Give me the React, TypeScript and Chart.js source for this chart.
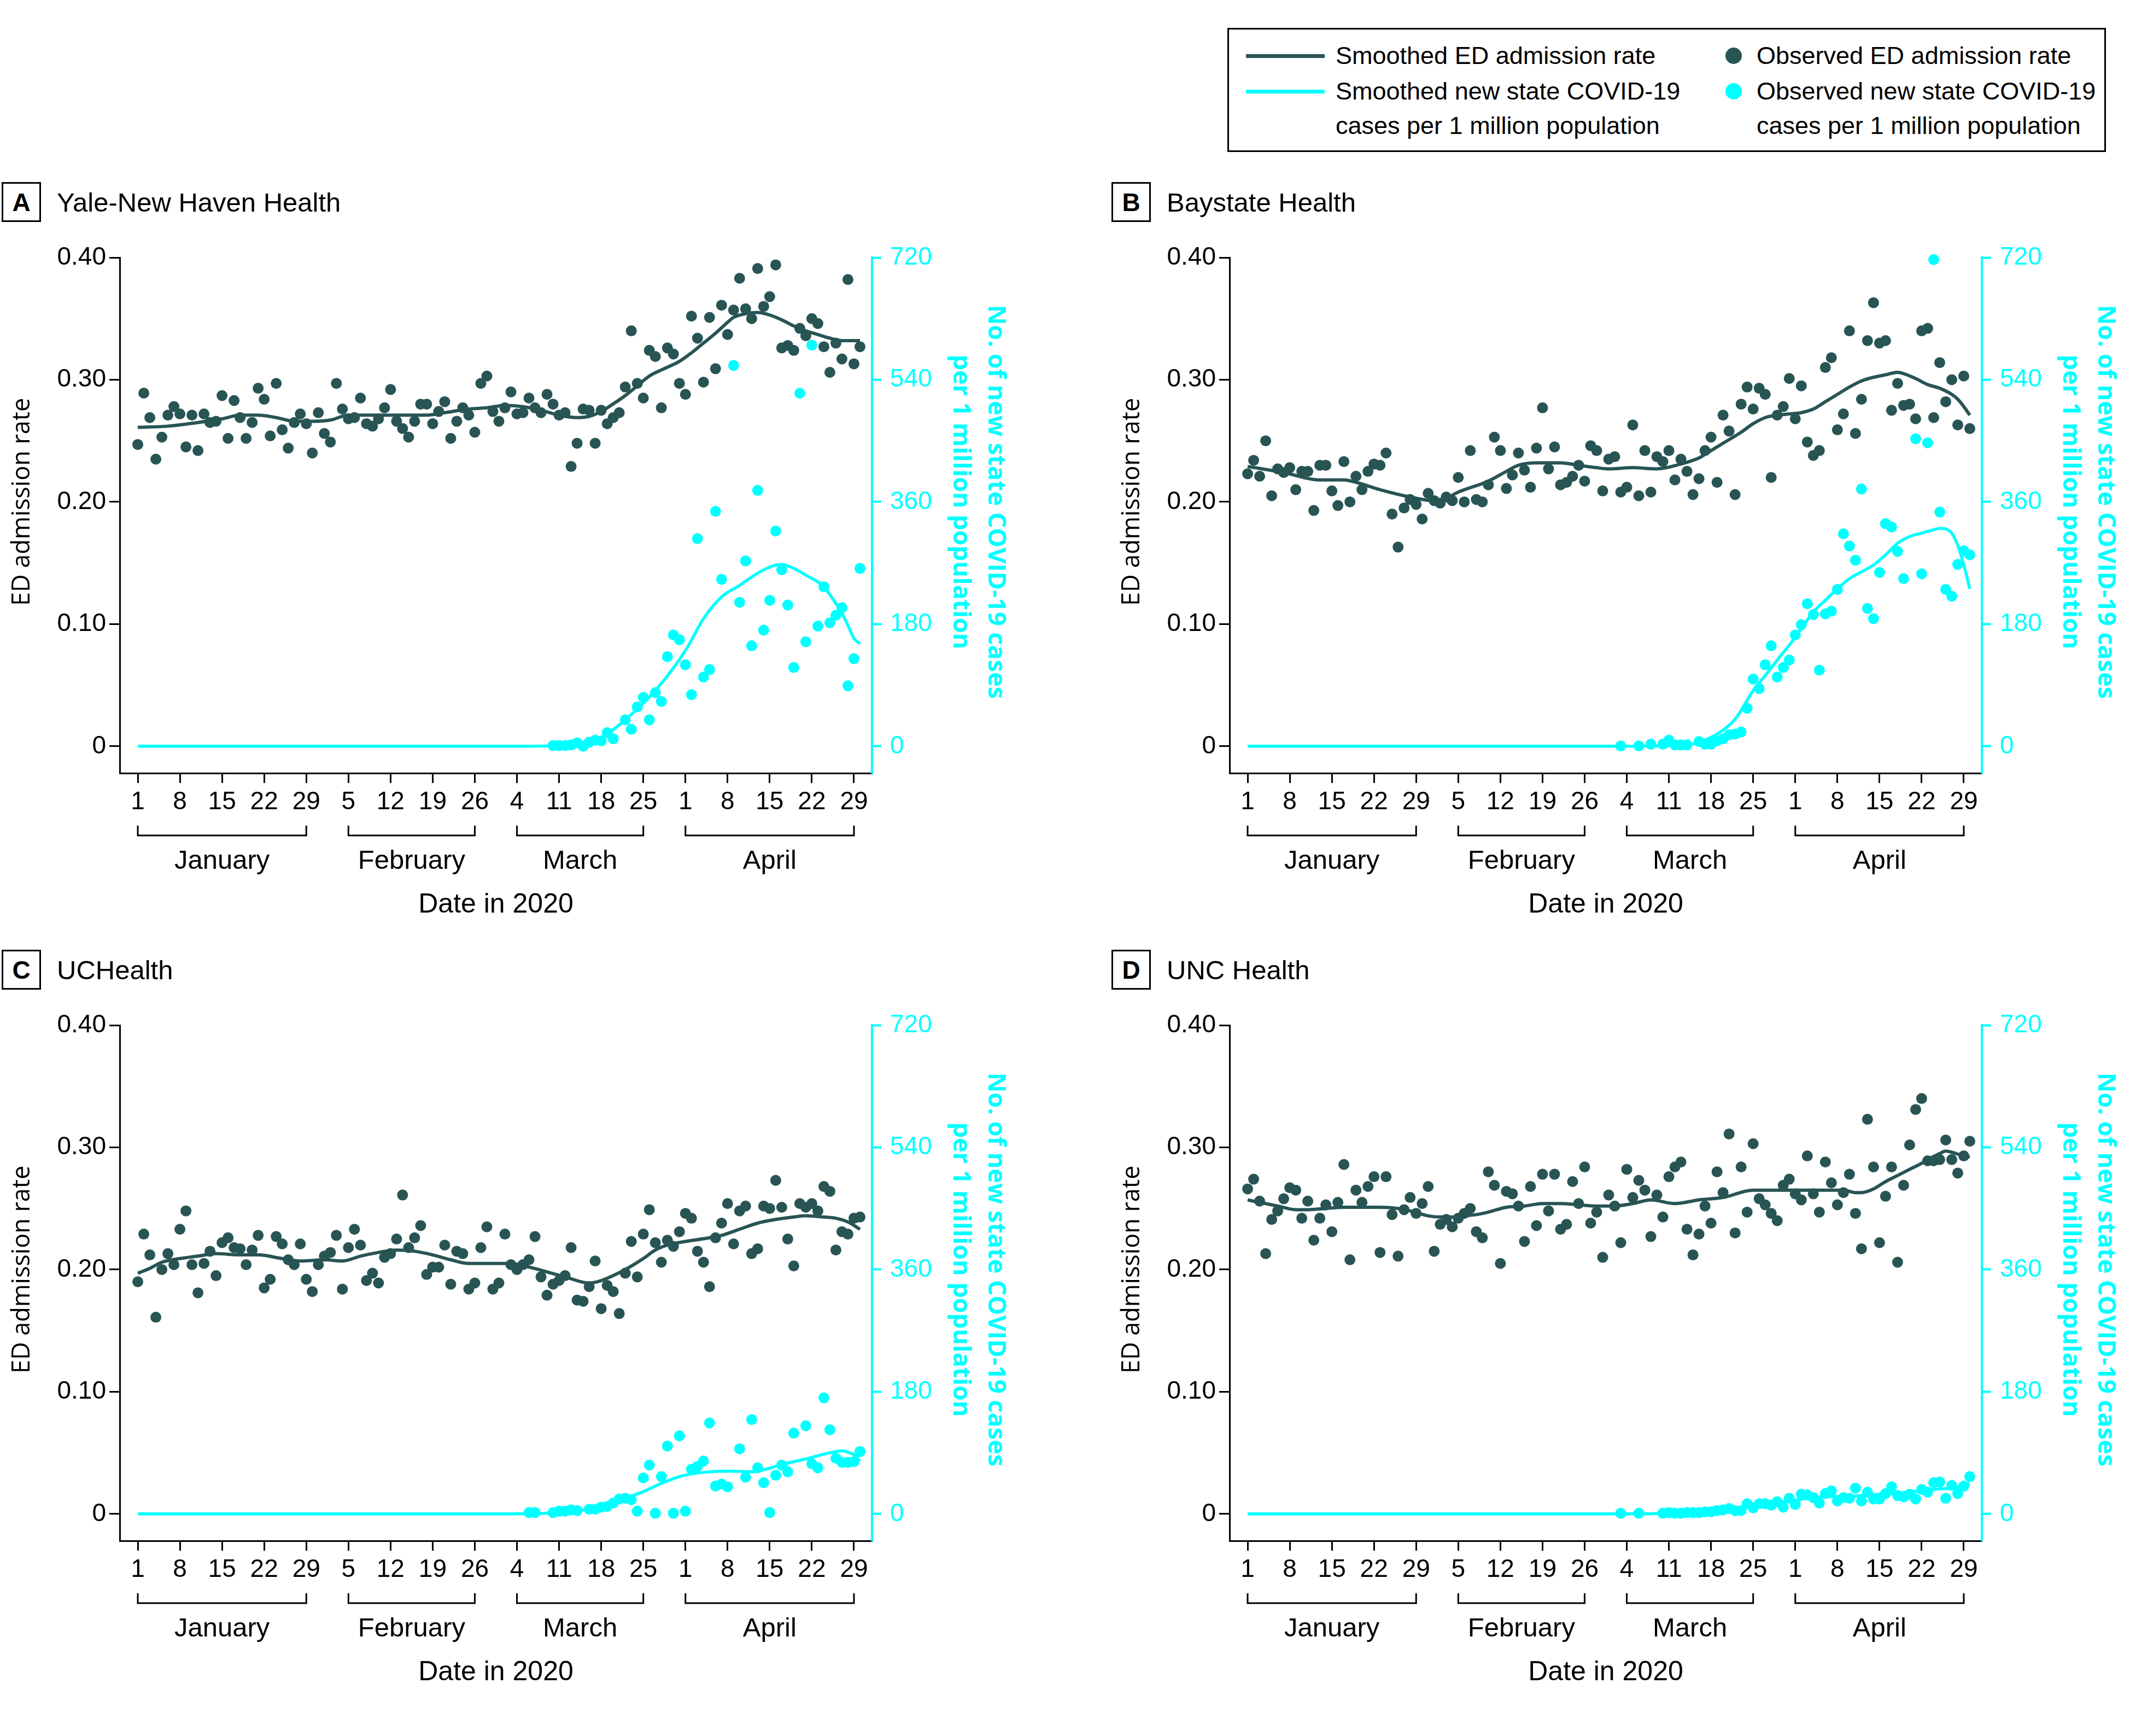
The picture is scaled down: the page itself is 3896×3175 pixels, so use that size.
import React, { useEffect, useRef } from 'react';
import { Chart, registerables } from 'chart.js';

Chart.register(...registerables);

// ---------- shared axis data ----------
const xTickDays = [0, 7, 14, 21, 28, 35, 42, 49, 56, 63, 70, 77, 84, 91, 98, 105, 112, 119];
const xTickLabels = ['1', '8', '15', '22', '29', '5', '12', '19', '26', '4', '11', '18', '25', '1', '8', '15', '22', '29'];
const monthNames = ['January', 'February', 'March', 'April'];
const monthStartDays = [0, 35, 63, 91];
const monthEndDays = [28, 56, 84, 119];
const rateTicks = [0, 0.1, 0.2, 0.3, 0.4];
const rateTickLabels = ['0', '0.10', '0.20', '0.30', '0.40'];
const caseTicks = [0, 180, 360, 540, 720];
const leftTitle = 'ED admission rate';
const rightTitle = ['No. of new state COVID-19 cases', 'per 1 million population'];
const xTitle = 'Date in 2020';

// ---------- A: Yale-New Haven Health ----------
const yaleRate = [
  0.247, 0.289, 0.269, 0.235, 0.253, 0.271, 0.278, 0.272, 0.245, 0.271,
  0.242, 0.272, 0.265, 0.266, 0.287, 0.252, 0.283, 0.269, 0.252, 0.265,
  0.293, 0.284, 0.254, 0.297, 0.259, 0.244, 0.265, 0.272, 0.264, 0.240,
  0.273, 0.256, 0.249, 0.297, 0.276, 0.268, 0.269, 0.285, 0.264, 0.262,
  0.268, 0.277, 0.292, 0.266, 0.260, 0.253, 0.266, 0.280, 0.280, 0.264,
  0.274, 0.282, 0.252, 0.266, 0.277, 0.271, 0.257, 0.297, 0.303, 0.274,
  0.266, 0.277, 0.290, 0.272, 0.273, 0.285, 0.277, 0.273, 0.288, 0.280,
  0.271, 0.273, 0.229, 0.248, 0.276, 0.275, 0.248, 0.275, 0.264, 0.269,
  0.273, 0.294, 0.340, 0.297, 0.285, 0.324, 0.319, 0.277, 0.326, 0.321,
  0.297, 0.288, 0.352, 0.334, 0.298, 0.351, 0.309, 0.361, 0.337, 0.357,
  0.383, 0.358, 0.350, 0.391, 0.360, 0.368, 0.394, 0.326, 0.328, 0.324,
  0.342, 0.336, 0.350, 0.346, 0.327, 0.306, 0.330, 0.317, 0.382, 0.313, 0.327,
];
const yaleRateSmoothDays = [0, 5, 10, 14, 17, 20, 23, 26, 29, 32, 35, 40, 45, 48, 51, 55, 58, 61, 64, 67, 70, 73, 75, 77, 78, 81, 83, 85, 87, 90, 92, 94, 96, 98, 99, 101, 103, 105, 107, 109, 111, 113, 115, 117, 120];
const yaleRateSmooth = [0.261, 0.262, 0.265, 0.268, 0.271, 0.271, 0.269, 0.266, 0.266, 0.267, 0.271, 0.271, 0.271, 0.271, 0.273, 0.276, 0.277, 0.279, 0.278, 0.275, 0.271, 0.269, 0.270, 0.274, 0.277, 0.287, 0.295, 0.303, 0.308, 0.315, 0.322, 0.330, 0.338, 0.347, 0.351, 0.354, 0.355, 0.353, 0.349, 0.344, 0.340, 0.337, 0.334, 0.332, 0.332];
const yaleCaseDays = [69, 70, 71, 72, 73, 74, 75, 76, 77, 78, 79, 81, 82, 83, 84, 85, 86, 87, 88, 89, 90, 91, 92, 93, 94, 95, 96, 97, 99, 100, 101, 102, 103, 104, 105, 106, 107, 108, 109, 110, 111, 112, 113, 114, 115, 116, 117, 118, 119, 120];
const yaleCases = [1, 1, 1, 2, 5, 0, 6, 9, 8, 20, 11, 39, 25, 58, 72, 39, 79, 66, 132, 164, 157, 120, 76, 306, 102, 113, 346, 246, 561, 212, 273, 148, 377, 171, 215, 317, 260, 208, 116, 520, 154, 591, 177, 235, 182, 193, 204, 89, 129, 262];
const yaleCaseSmoothDays = [0, 60, 68, 72, 76, 78, 81, 86, 91, 94, 97, 100, 103, 106, 107, 109, 111, 114, 116, 117, 118, 119, 120];
const yaleCaseSmooth = [0, 0, 0.5, 2, 8, 18, 39, 82, 141, 188, 220, 237, 255, 267, 268, 262, 252, 235, 210, 196, 178, 159, 151];

// ---------- B: Baystate Health ----------
const bayRate = [
  0.223, 0.234, 0.221, 0.250, 0.205, 0.227, 0.224, 0.228, 0.210, 0.225,
  0.225, 0.193, 0.230, 0.230, 0.209, 0.197, 0.233, 0.200, 0.221, 0.210,
  0.225, 0.231, 0.230, 0.240, 0.190, 0.163, 0.195, 0.202, 0.198, 0.186,
  0.207, 0.201, 0.199, 0.204, 0.201, 0.220, 0.200, 0.242, 0.202, 0.200,
  0.214, 0.253, 0.242, 0.211, 0.222, 0.240, 0.226, 0.212, 0.244, 0.277,
  0.227, 0.245, 0.214, 0.216, 0.221, 0.230, 0.217, 0.246, 0.242, 0.209,
  0.235, 0.237, 0.208, 0.212, 0.263, 0.205, 0.242, 0.208, 0.237, 0.233,
  0.242, 0.218, 0.235, 0.225, 0.206, 0.219, 0.242, 0.253, 0.216, 0.271,
  0.258, 0.206, 0.280, 0.294, 0.276, 0.293, 0.288, 0.220, 0.271, 0.278,
  0.301, 0.268, 0.295, 0.249, 0.238, 0.242, 0.310, 0.318, 0.259, 0.272,
  0.340, 0.256, 0.284, 0.332, 0.363, 0.330, 0.332, 0.275, 0.297, 0.279,
  0.280, 0.268, 0.340, 0.342, 0.269, 0.314, 0.282, 0.300, 0.263, 0.303, 0.260,
];
const bayRateSmoothDays = [0, 6, 12, 16, 18, 22, 27, 31, 33, 35, 40, 43, 45, 48, 52, 55, 58, 60, 64, 68, 72, 75, 77, 80, 82, 84, 86, 88, 90, 92, 94, 96, 98, 100, 102, 104, 106, 108, 109, 111, 113, 115, 117, 118, 119, 120];
const bayRateSmooth = [0.229, 0.224, 0.218, 0.218, 0.216, 0.210, 0.204, 0.201, 0.203, 0.208, 0.217, 0.225, 0.230, 0.232, 0.232, 0.230, 0.228, 0.227, 0.228, 0.227, 0.231, 0.236, 0.242, 0.251, 0.257, 0.264, 0.269, 0.271, 0.272, 0.273, 0.276, 0.282, 0.288, 0.294, 0.299, 0.302, 0.304, 0.306, 0.305, 0.301, 0.296, 0.293, 0.288, 0.284, 0.278, 0.271];
const bayCaseDays = [62, 65, 67, 69, 70, 71, 72, 73, 75, 76, 77, 78, 79, 80, 81, 82, 83, 84, 85, 86, 87, 88, 89, 90, 91, 92, 93, 94, 95, 96, 97, 98, 99, 100, 101, 102, 103, 104, 105, 106, 107, 108, 109, 111, 112, 113, 114, 115, 116, 117, 118, 119, 120];
const bayCases = [0.5, 0.5, 3, 3, 9, 2, 2, 2, 7, 3, 3, 8, 11, 17, 18, 21, 56, 99, 85, 120, 148, 102, 116, 127, 164, 179, 210, 194, 112, 195, 199, 231, 313, 295, 274, 379, 203, 188, 256, 328, 323, 287, 247, 453, 254, 447, 717, 345, 231, 221, 268, 288, 282];
const bayCaseSmoothDays = [0, 60, 72, 75, 78, 81, 84, 86, 88, 90, 92, 94, 96, 98, 100, 102, 104, 106, 108, 110, 112, 114, 115, 116, 117, 118, 119, 120];
const bayCaseSmooth = [0, 0, 1, 6, 18, 40, 82, 104, 127, 149, 173, 198, 215, 232, 247, 257, 267, 282, 299, 309, 314, 319, 321, 320, 314, 296, 267, 232];

// ---------- C: UCHealth ----------
const ucRate = [
  0.190, 0.229, 0.212, 0.161, 0.200, 0.213, 0.204, 0.233, 0.248, 0.204,
  0.181, 0.205, 0.215, 0.195, 0.222, 0.226, 0.218, 0.217, 0.204, 0.216,
  0.228, 0.185, 0.192, 0.227, 0.221, 0.208, 0.204, 0.221, 0.192, 0.182,
  0.204, 0.211, 0.214, 0.228, 0.184, 0.218, 0.233, 0.220, 0.191, 0.197,
  0.189, 0.210, 0.213, 0.225, 0.261, 0.218, 0.226, 0.236, 0.196, 0.202,
  0.202, 0.220, 0.188, 0.215, 0.213, 0.184, 0.189, 0.218, 0.235, 0.184,
  0.189, 0.229, 0.204, 0.200, 0.204, 0.208, 0.227, 0.194, 0.179, 0.188,
  0.191, 0.195, 0.218, 0.175, 0.174, 0.186, 0.207, 0.168, 0.187, 0.182,
  0.164, 0.197, 0.223, 0.194, 0.229, 0.249, 0.222, 0.206, 0.224, 0.219,
  0.231, 0.246, 0.242, 0.215, 0.206, 0.186, 0.226, 0.238, 0.254, 0.221,
  0.248, 0.252, 0.213, 0.217, 0.252, 0.250, 0.273, 0.251, 0.225, 0.203,
  0.254, 0.251, 0.254, 0.248, 0.268, 0.264, 0.216, 0.231, 0.229, 0.242, 0.243,
];
const ucRateSmoothDays = [0, 2, 4, 7, 10, 13, 17, 20, 24, 27, 31, 34, 37, 40, 43, 46, 49, 52, 55, 58, 62, 65, 71, 75, 77, 81, 84, 86, 88, 91, 95, 97, 100, 103, 106, 109, 111, 114, 116, 118, 120];
const ucRateSmooth = [0.197, 0.201, 0.206, 0.209, 0.211, 0.213, 0.212, 0.212, 0.209, 0.207, 0.208, 0.207, 0.211, 0.214, 0.216, 0.215, 0.212, 0.208, 0.205, 0.205, 0.205, 0.202, 0.194, 0.189, 0.191, 0.200, 0.209, 0.216, 0.220, 0.223, 0.226, 0.228, 0.233, 0.238, 0.241, 0.243, 0.244, 0.243, 0.242, 0.239, 0.233];
const ucCaseDays = [65, 66, 69, 70, 71, 72, 73, 75, 76, 77, 78, 79, 80, 81, 82, 83, 84, 85, 86, 87, 88, 89, 90, 91, 92, 93, 94, 95, 96, 97, 98, 100, 101, 102, 103, 104, 105, 106, 107, 108, 109, 111, 112, 113, 114, 115, 116, 117, 118, 119, 120];
const ucCases = [2, 2, 2, 4, 4, 6, 5, 7, 7, 10, 11, 16, 22, 23, 21, 4, 53, 72, 1, 55, 100, 1, 115, 4, 66, 70, 78, 134, 41, 44, 40, 96, 54, 139, 68, 46, 2, 57, 72, 62, 119, 130, 74, 68, 171, 124, 82, 76, 76, 77, 92];
const ucCaseSmoothDays = [0, 60, 68, 72, 75, 78, 81, 84, 87, 90, 92, 95, 97, 99, 102, 104, 106, 108, 111, 114, 116, 117, 118, 119, 120];
const ucCaseSmooth = [0, 0, 1, 4, 7, 13, 23, 33, 45, 55, 59, 62, 63, 63, 62, 65, 70, 75, 81, 88, 92, 93, 91, 87, 78];

// ---------- D: UNC Health ----------
const uncRate = [
  0.266, 0.274, 0.256, 0.213, 0.241, 0.248, 0.258, 0.267, 0.265, 0.242,
  0.256, 0.224, 0.242, 0.253, 0.231, 0.255, 0.286, 0.208, 0.265, 0.255,
  0.268, 0.276, 0.214, 0.276, 0.245, 0.211, 0.249, 0.259, 0.246, 0.254,
  0.268, 0.215, 0.237, 0.241, 0.235, 0.242, 0.246, 0.250, 0.231, 0.226,
  0.280, 0.269, 0.205, 0.264, 0.262, 0.252, 0.223, 0.268, 0.236, 0.278,
  0.248, 0.278, 0.233, 0.237, 0.272, 0.254, 0.284, 0.238, 0.247, 0.210,
  0.261, 0.252, 0.222, 0.282, 0.259, 0.273, 0.265, 0.227, 0.261, 0.243,
  0.276, 0.284, 0.288, 0.233, 0.212, 0.229, 0.252, 0.238, 0.280, 0.263,
  0.311, 0.230, 0.284, 0.247, 0.303, 0.258, 0.253, 0.246, 0.240, 0.269,
  0.274, 0.262, 0.257, 0.293, 0.262, 0.247, 0.288, 0.271, 0.253, 0.263,
  0.278, 0.246, 0.217, 0.323, 0.284, 0.222, 0.260, 0.284, 0.206, 0.269,
  0.302, 0.331, 0.340, 0.289, 0.289, 0.290, 0.306, 0.290, 0.279, 0.293, 0.305,
];
const uncRateSmoothDays = [0, 2, 5, 8, 10, 13, 16, 20, 22, 25, 27, 30, 32, 34, 36, 38, 40, 43, 46, 49, 52, 55, 58, 61, 64, 67, 71, 75, 79, 84, 89, 94, 97, 99, 101, 102, 104, 106, 108, 110, 112, 113, 115, 116, 117, 119, 120];
const uncRateSmooth = [0.257, 0.255, 0.252, 0.249, 0.249, 0.250, 0.251, 0.251, 0.251, 0.250, 0.248, 0.244, 0.243, 0.243, 0.244, 0.245, 0.247, 0.251, 0.252, 0.254, 0.254, 0.253, 0.252, 0.252, 0.254, 0.257, 0.254, 0.257, 0.259, 0.265, 0.265, 0.265, 0.265, 0.265, 0.263, 0.263, 0.266, 0.272, 0.277, 0.282, 0.287, 0.290, 0.295, 0.297, 0.296, 0.293, 0.292];
const uncCaseDays = [62, 65, 69, 70, 71, 72, 73, 74, 75, 76, 77, 78, 79, 80, 81, 82, 83, 84, 85, 86, 87, 88, 89, 90, 91, 92, 93, 94, 95, 96, 97, 98, 99, 100, 101, 102, 103, 104, 105, 106, 107, 108, 109, 110, 111, 112, 113, 114, 115, 116, 117, 118, 119, 120];
const uncCases = [1, 1, 1, 2, 1, 1, 2, 2, 2, 3, 3, 5, 6, 8, 5, 5, 15, 9, 15, 15, 13, 18, 10, 23, 14, 29, 28, 24, 16, 30, 34, 19, 24, 23, 38, 19, 32, 22, 22, 30, 40, 27, 25, 29, 22, 36, 32, 46, 47, 23, 42, 30, 41, 55];
const uncCaseSmoothDays = [0, 65, 70, 75, 80, 85, 90, 95, 100, 105, 110, 115, 117, 119, 120];
const uncCaseSmooth = [0, 0, 1, 3, 8, 14, 19, 25, 26, 29, 32, 37, 38, 42, 45];

// ---------- styling / geometry ----------
const DARK = '#285454';
const CYAN = '#00FFFF';
const SANS = '"Liberation Sans", Arial, sans-serif';
const TITLE_SANS = '"Open Sans", "Noto Sans", sans-serif';

const CW = 1860;
const CH = 1319;
const AREA_TOP = 60;
const LEFT_W = 219;
const RIGHT_W = 265;
const X_H = 316;

const panels = [
  { id: 'A', name: 'Yale-New Haven Health', left: 0, top: 411, rate: yaleRate, rsd: yaleRateSmoothDays, rs: yaleRateSmooth, cd: yaleCaseDays, c: yaleCases, csd: yaleCaseSmoothDays, cs: yaleCaseSmooth },
  { id: 'B', name: 'Baystate Health', left: 2030, top: 411, rate: bayRate, rsd: bayRateSmoothDays, rs: bayRateSmooth, cd: bayCaseDays, c: bayCases, csd: bayCaseSmoothDays, cs: bayCaseSmooth },
  { id: 'C', name: 'UCHealth', left: 0, top: 1815, rate: ucRate, rsd: ucRateSmoothDays, rs: ucRateSmooth, cd: ucCaseDays, c: ucCases, csd: ucCaseSmoothDays, cs: ucCaseSmooth },
  { id: 'D', name: 'UNC Health', left: 2030, top: 1815, rate: uncRate, rsd: uncRateSmoothDays, rs: uncRateSmooth, cd: uncCaseDays, c: uncCases, csd: uncCaseSmoothDays, cs: uncCaseSmooth },
];

const decorPlugin = {
  id: 'panelDecor',
  afterDraw(chart: any) {
    const { ctx, chartArea, scales } = chart;
    const xs = scales.x;
    const ys = scales.y;
    const base = chartArea.bottom;
    ctx.save();
    ctx.strokeStyle = '#000';
    ctx.lineWidth = 3;
    ctx.fillStyle = '#000';
    ctx.font = `49px ${SANS}`;
    ctx.textAlign = 'center';
    ctx.textBaseline = 'middle';
    monthNames.forEach((m, i) => {
      const x1 = xs.getPixelForValue(monthStartDays[i]);
      const x2 = xs.getPixelForValue(monthEndDays[i]);
      ctx.beginPath();
      ctx.moveTo(x1, base + 96);
      ctx.lineTo(x1, base + 114);
      ctx.lineTo(x2, base + 114);
      ctx.lineTo(x2, base + 96);
      ctx.stroke();
      ctx.fillText(m, (x1 + x2) / 2, base + 161);
    });
    const mid = (ys.getPixelForValue(0) + ys.getPixelForValue(0.4)) / 2;
    ctx.save();
    ctx.translate(41, mid);
    ctx.rotate(-Math.PI / 2);
    ctx.font = `45px ${TITLE_SANS}`;
    ctx.fillText(leftTitle, 0, 0);
    ctx.restore();
    ctx.fillStyle = CYAN;
    ctx.font = `bold 45px ${TITLE_SANS}`;
    rightTitle.forEach((line, i) => {
      ctx.save();
      ctx.translate(1821 - 64 * i, mid);
      ctx.rotate(Math.PI / 2);
      ctx.fillText(line, 0, 0);
      ctx.restore();
    });
    ctx.restore();
  },
};

function buildConfig(p: any): any {
  const ratePts = p.rate.map((v: number, i: number) => ({ x: i, y: v }));
  const rateSmoothPts = p.rsd.map((d: number, i: number) => ({ x: d, y: p.rs[i] }));
  const casePts = p.cd.map((d: number, i: number) => ({ x: d, y: p.c[i] }));
  const caseSmoothPts = p.csd.map((d: number, i: number) => ({ x: d, y: p.cs[i] }));
  const tickGrid = (color: string, len: number, w: number) => ({
    display: true, drawOnChartArea: false, drawTicks: true, tickLength: len, tickWidth: w, tickColor: color,
  });
  return {
    type: 'scatter',
    data: {
      datasets: [
        { type: 'line', label: 'Smoothed ED admission rate', data: rateSmoothPts, yAxisID: 'y', borderColor: DARK, borderWidth: 6, pointRadius: 0, fill: false, cubicInterpolationMode: 'monotone', order: 4 },
        { type: 'line', label: 'Smoothed new state COVID-19 cases per 1 million population', data: caseSmoothPts, yAxisID: 'y2', borderColor: CYAN, borderWidth: 5.5, pointRadius: 0, fill: false, cubicInterpolationMode: 'monotone', order: 3 },
        { type: 'scatter', label: 'Observed new state COVID-19 cases per 1 million population', data: casePts, yAxisID: 'y2', backgroundColor: CYAN, borderWidth: 0, pointRadius: 10, order: 2, clip: false },
        { type: 'scatter', label: 'Observed ED admission rate', data: ratePts, yAxisID: 'y', backgroundColor: DARK, borderWidth: 0, pointRadius: 10, order: 1, clip: false },
      ],
    },
    options: {
      responsive: false,
      animation: false,
      devicePixelRatio: 1,
      events: [],
      layout: { padding: { top: AREA_TOP, left: 0, right: 0, bottom: 0 } },
      plugins: { legend: { display: false }, tooltip: { enabled: false }, title: { display: false } },
      scales: {
        x: {
          type: 'linear', position: 'bottom', min: -3, max: 122,
          afterBuildTicks: (s: any) => { s.ticks = xTickDays.map((v) => ({ value: v })); },
          afterFit: (s: any) => { s.height = X_H; },
          ticks: {
            autoSkip: false, maxRotation: 0, minRotation: 0, padding: 8, color: '#000',
            font: { family: SANS, size: 46, lineHeight: 1.2 },
            callback: (v: number) => { const k = xTickDays.indexOf(v); return k >= 0 ? xTickLabels[k] : ''; },
          },
          grid: tickGrid('#000', 18, 3),
          border: { display: true, color: '#000', width: 3 },
          title: { display: true, text: xTitle, color: '#000', font: { family: SANS, size: 50, lineHeight: 1.2 }, padding: { top: 0, bottom: 45 } },
        },
        y: {
          type: 'linear', position: 'left', min: -0.022, max: 0.4,
          afterBuildTicks: (s: any) => { s.ticks = rateTicks.map((v) => ({ value: v })); },
          afterFit: (s: any) => { s.width = LEFT_W; },
          ticks: {
            padding: 6, color: '#000', font: { family: SANS, size: 46, lineHeight: 1.0 },
            callback: (v: number) => { const k = rateTicks.indexOf(v); return k >= 0 ? rateTickLabels[k] : ''; },
          },
          grid: tickGrid('#000', 19, 3),
          border: { display: true, color: '#000', width: 3 },
        },
        y2: {
          type: 'linear', position: 'right', min: -39.6, max: 720,
          afterBuildTicks: (s: any) => { s.ticks = caseTicks.map((v) => ({ value: v })); },
          afterFit: (s: any) => { s.width = RIGHT_W; },
          ticks: {
            padding: 16, color: CYAN, font: { family: SANS, size: 46, lineHeight: 1.0 },
            callback: (v: number) => String(v),
          },
          grid: tickGrid(CYAN, 17, 4),
          border: { display: true, color: CYAN, width: 4 },
        },
      },
    },
    plugins: [decorPlugin],
  };
}

function Panel({ p }: { p: any }) {
  const ref = useRef<HTMLCanvasElement | null>(null);
  useEffect(() => {
    if (!ref.current) return;
    const chart = new Chart(ref.current, buildConfig(p));
    return () => chart.destroy();
  }, [p]);
  return (
    <canvas
      ref={ref}
      width={CW}
      height={CH}
      style={{ position: 'absolute', left: p.left, top: p.top, width: CW, height: CH }}
    />
  );
}

function PanelHeader({ p }: { p: any }) {
  const dy = p.top - 411;
  return (
    <>
      <div
        style={{
          position: 'absolute', left: 3 + p.left, top: 333 + dy, width: 72, height: 73, boxSizing: 'border-box',
          border: '3px solid #000', display: 'flex', alignItems: 'center', justifyContent: 'center',
          fontFamily: SANS, fontWeight: 'bold', fontSize: 46, lineHeight: '46px', color: '#000',
        }}
      >
        {p.id}
      </div>
      <div
        style={{
          position: 'absolute', left: 104 + p.left, top: 371 + dy - 25, fontFamily: SANS, fontSize: 49,
          lineHeight: '49px', whiteSpace: 'nowrap', color: '#000',
        }}
      >
        {p.name}
      </div>
    </>
  );
}

const legendText = (left: number, cy: number): React.CSSProperties => ({
  position: 'absolute', left, top: cy - 23, fontFamily: SANS, fontSize: 45, lineHeight: '45px',
  whiteSpace: 'nowrap', color: '#000',
});

function Legend() {
  return (
    <>
      <div style={{ position: 'absolute', left: 2245, top: 51, width: 1607, height: 227, boxSizing: 'border-box', border: '3px solid #000' }} />
      <div style={{ position: 'absolute', left: 2279, top: 99, width: 144, height: 7, background: DARK }} />
      <div style={legendText(2443, 102)}>Smoothed ED admission rate</div>
      <div style={{ position: 'absolute', left: 2279, top: 164, width: 144, height: 7, background: CYAN }} />
      <div style={legendText(2443, 167)}>Smoothed new state COVID-19</div>
      <div style={legendText(2443, 230)}>cases per 1 million population</div>
      <div style={{ position: 'absolute', left: 3171 - 15, top: 102 - 15, width: 30, height: 30, borderRadius: '50%', background: DARK }} />
      <div style={legendText(3213, 102)}>Observed ED admission rate</div>
      <div style={{ position: 'absolute', left: 3171 - 15, top: 167 - 15, width: 30, height: 30, borderRadius: '50%', background: CYAN }} />
      <div style={legendText(3213, 167)}>Observed new state COVID-19</div>
      <div style={legendText(3213, 230)}>cases per 1 million population</div>
    </>
  );
}

export default function App() {
  return (
    <div style={{ position: 'absolute', left: 0, top: 0, width: 3896, height: 3175, background: '#fff', overflow: 'hidden' }}>
      {panels.map((p) => (
        <Panel key={p.id} p={p} />
      ))}
      {panels.map((p) => (
        <PanelHeader key={'h' + p.id} p={p} />
      ))}
      <Legend />
    </div>
  );
}
